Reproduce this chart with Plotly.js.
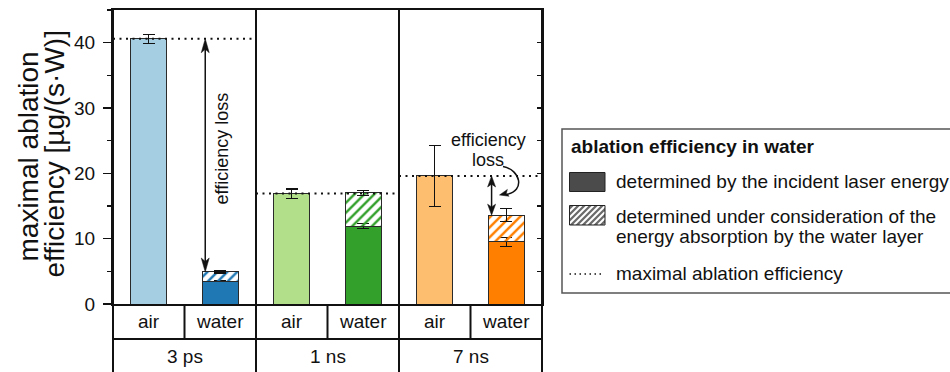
<!DOCTYPE html>
<html>
<head>
<meta charset="utf-8">
<script src="https://cdn.plot.ly/plotly-3.0.1.min.js"></script>
<style>
  html, body { margin: 0; padding: 0; background: #fff; }
  #chart { width: 950px; height: 372px; }
</style>
</head>
<body>
<div id="chart"></div>
<script>
// Pulse durations and ablation media
const pulseDurations = ['3 ps', '1 ns', '7 ns'];
const media = ['air', 'water'];

// Maximal ablation efficiency in air, µg/(s·W)
const airValues = [40.6, 16.9, 19.6];
const airErrors = [0.7, 0.7, 4.7];

// In water, referred to the incident laser energy
const waterIncident = [3.5, 11.9, 9.5];
const waterIncidentErrors = [0.1, 0.4, 0.7];

// In water, taking the absorption of the water layer into account
const waterAbsorbed = [4.9, 17.0, 13.6];
const waterAbsorbedErrors = [0.15, 0.35, 1.0];

const airColors = ['#a6cee3', '#b2df8a', '#fdbf6f'];
const waterColors = ['#1f78b4', '#33a02c', '#ff7f00'];

const FONT = 'Liberation Sans, Arial, Helvetica, sans-serif';
const INK = '#111';

// plot-area geometry (pixels)
const P = { l: 113, t: 10, w: 429, h: 294 };
const Y_MAX = 45;
const N_CAT = pulseDurations.length * media.length;
const paperX = px => (px - P.l) / P.w;
const paperY = py => (P.t + P.h - py) / P.h;
const dataX = px => (px - P.l) / P.w * N_CAT - 0.5;
const dataY = py => (P.t + P.h - py) / P.h * Y_MAX;
const pixX = x => P.l + (x + 0.5) / N_CAT * P.w;
const pixY = y => P.t + P.h - y / Y_MAX * P.h;

const airX = pulseDurations.map((_, i) => 2 * i);
const waterX = pulseDurations.map((_, i) => 2 * i + 1);
const hatchPart = waterAbsorbed.map((v, i) => +(v - waterIncident[i]).toFixed(3));

const barLine = { color: '#2a2a2a', width: 1 };
const errStyle = (arr) => ({ type: 'data', array: arr, visible: true, color: INK, thickness: 1.2, width: 6 });

// dotted reference line at the air value across each pulse-duration group
const maxX = [], maxY = [];
airValues.forEach((v, i) => {
  maxX.push(2 * i - 0.5, 2 * i + 1.5, null);
  maxY.push(v, v, null);
});

const traces = [
  {
    type: 'bar', x: airX, y: airValues, width: 0.5,
    marker: { color: airColors, line: barLine },
    error_y: errStyle(airErrors), hoverinfo: 'y', showlegend: false
  },
  {
    type: 'bar', x: waterX, y: waterIncident, width: 0.5,
    marker: { color: waterColors, line: barLine },
    error_y: errStyle(waterIncidentErrors), hoverinfo: 'y', showlegend: false
  },
  {
    type: 'bar', x: waterX, y: hatchPart, width: 0.5,
    marker: {
      color: waterColors, line: barLine,
      pattern: { shape: '/', fgcolor: '#ffffff', bgcolor: waterColors, size: 7, solidity: 0.35 }
    },
    error_y: errStyle(waterAbsorbedErrors), hoverinfo: 'y', showlegend: false
  },
  {
    type: 'scatter', mode: 'lines', x: maxX, y: maxY, yaxis: 'y2',
    line: { color: INK, width: 2, dash: '2px,4.5px' },
    hoverinfo: 'skip', showlegend: false
  }
];

// ---- shapes -------------------------------------------------------------
const shapes = [];
const lineW = 2;
const row1 = paperY(339);
const tableBottom = paperY(380);

// group separators, through the plot and the label table
[-0.5, 1.5, 3.5, 5.5].forEach(x => {
  shapes.push({ type: 'line', xref: 'paper', yref: 'paper',
    x0: (x + 0.5) / N_CAT, x1: (x + 0.5) / N_CAT, y0: 1, y1: tableBottom,
    line: { color: INK, width: lineW }, layer: 'above' });
});
// air / water separators in the first table row
[0.5, 2.5, 4.5].forEach(x => {
  shapes.push({ type: 'line', xref: 'paper', yref: 'paper',
    x0: (x + 0.5) / N_CAT, x1: (x + 0.5) / N_CAT, y0: 0, y1: row1,
    line: { color: INK, width: lineW }, layer: 'above' });
});
shapes.push({ type: 'line', xref: 'paper', yref: 'paper', x0: 0, x1: 1, y0: row1, y1: row1,
  line: { color: INK, width: lineW }, layer: 'above' });

// filled arrowhead given tip (pixels) and pointing direction
function arrowHead(tx, ty, ux, uy, len, half, notch) {
  const nx = -uy, ny = ux;
  const pts = [
    [tx, ty],
    [tx - ux * len + nx * half, ty - uy * len + ny * half],
    [tx - ux * notch, ty - uy * notch],
    [tx - ux * len - nx * half, ty - uy * len - ny * half]
  ];
  const d = pts.map((p, k) => (k ? 'L' : 'M') + dataX(p[0]).toFixed(4) + ',' + dataY(p[1]).toFixed(4)).join(' ') + ' Z';
  return { type: 'path', xref: 'x', yref: 'y', path: d, fillcolor: INK, line: { color: INK, width: 0.5 }, layer: 'above' };
}

function doubleArrow(x, yTop, yBottom, len, half) {
  const px = pixX(x), pTop = pixY(yTop), pBot = pixY(yBottom);
  shapes.push({ type: 'line', xref: 'x', yref: 'y', x0: x, x1: x,
    y0: dataY(pTop + len * 0.7), y1: dataY(pBot - len * 0.7),
    line: { color: INK, width: 1.5 }, layer: 'above' });
  shapes.push(arrowHead(px, pTop, 0, -1, len, half, len * 0.75));
  shapes.push(arrowHead(px, pBot, 0, 1, len, half, len * 0.75));
}

// efficiency loss, 3 ps and 7 ns
doubleArrow(waterX[0] - 0.21, airValues[0], waterAbsorbed[0], 14, 4);
doubleArrow(waterX[2] - 0.205, airValues[2], waterAbsorbed[2], 11, 4);

// curved pointer from the label to the 7 ns arrow
const cp = [[503, 166.5], [521, 170], [525, 191], [507, 194.2]];
shapes.push({ type: 'path', xref: 'x', yref: 'y',
  path: 'M' + dataX(cp[0][0]) + ',' + dataY(cp[0][1]) +
        ' C' + dataX(cp[1][0]) + ',' + dataY(cp[1][1]) + ' ' +
        dataX(cp[2][0]) + ',' + dataY(cp[2][1]) + ' ' +
        dataX(cp[3][0]) + ',' + dataY(cp[3][1]),
  line: { color: INK, width: 1.5 }, layer: 'above' });
shapes.push(arrowHead(499.5, 195, -0.97, 0.24, 9, 3.5, 7));

// ---- legend box ----------------------------------------------------------
const LG = { x0: 562, x1: 975, y0: 129, y1: 293 };
shapes.push({ type: 'rect', xref: 'paper', yref: 'paper',
  x0: paperX(LG.x0), x1: paperX(LG.x1), y0: paperY(LG.y1), y1: paperY(LG.y0),
  line: { color: '#555', width: 1.5 }, fillcolor: 'rgba(0,0,0,0)' });

const SW = { x0: 569.5, x1: 605 };
shapes.push({ type: 'rect', xref: 'paper', yref: 'paper',
  x0: paperX(SW.x0), x1: paperX(SW.x1), y0: paperY(191.5), y1: paperY(172.5),
  line: { color: '#222', width: 1 }, fillcolor: '#4b4b4b' });

// hatched swatch
const H = { x0: SW.x0, x1: SW.x1, y0: 205.5, y1: 225 };
shapes.push({ type: 'rect', xref: 'paper', yref: 'paper',
  x0: paperX(H.x0), x1: paperX(H.x1), y0: paperY(H.y1), y1: paperY(H.y0),
  line: { width: 0 }, fillcolor: '#6a6a6a' });
for (let c = H.x0 + H.y0; c <= H.x1 + H.y1; c += 6) {
  const xa = Math.max(H.x0, c - H.y1), xb = Math.min(H.x1, c - H.y0);
  if (xb - xa < 0.5) continue;
  shapes.push({ type: 'line', xref: 'paper', yref: 'paper',
    x0: paperX(xa), y0: paperY(c - xa), x1: paperX(xb), y1: paperY(c - xb),
    line: { color: '#ffffff', width: 2 } });
}
shapes.push({ type: 'rect', xref: 'paper', yref: 'paper',
  x0: paperX(H.x0), x1: paperX(H.x1), y0: paperY(H.y1), y1: paperY(H.y0),
  line: { color: '#222', width: 1 }, fillcolor: 'rgba(0,0,0,0)' });

shapes.push({ type: 'line', xref: 'paper', yref: 'paper',
  x0: paperX(569.5), x1: paperX(601), y0: paperY(274), y1: paperY(274),
  line: { color: INK, width: 1.5, dash: '1.5px,3.5px' } });

// ---- annotations ---------------------------------------------------------
const annotations = [];
const txt = (text, x, y, opts) => Object.assign({
  text, x, y, xref: 'paper', yref: 'paper', showarrow: false,
  xanchor: 'center', yanchor: 'middle', font: { family: FONT, size: 19, color: INK }
}, opts || {});

// category table labels
pulseDurations.forEach((d, i) => {
  media.forEach((m, j) => {
    annotations.push(txt(m, 2 * i + j, paperY(321.5), { xref: 'x' }));
  });
  annotations.push(txt(d, 2 * i + 0.5, paperY(356.5), { xref: 'x' }));
});

// y-axis title, two lines
annotations.push(txt('maximal ablation', paperX(27.5), paperY(157),
  { textangle: -90, font: { family: FONT, size: 28, color: INK } }));
annotations.push(txt('efficiency [µg/(s·W)]', paperX(53.5), paperY(154),
  { textangle: -90, font: { family: FONT, size: 28, color: INK } }));

// efficiency loss labels
annotations.push(txt('efficiency loss', dataX(221), dataY(148.5),
  { xref: 'x', yref: 'y', textangle: -90, font: { family: FONT, size: 18, color: INK } }));
annotations.push(txt('efficiency', dataX(488), dataY(139.5),
  { xref: 'x', yref: 'y', font: { family: FONT, size: 18, color: INK } }));
annotations.push(txt('loss', dataX(488), dataY(160),
  { xref: 'x', yref: 'y', font: { family: FONT, size: 18, color: INK } }));

// legend text
const LX = paperX(614);
annotations.push(txt('<b>ablation efficiency in water</b>', paperX(569), paperY(146.5), { xanchor: 'left' }));
annotations.push(txt('determined by the incident laser energy', LX, paperY(181.5), { xanchor: 'left' }));
annotations.push(txt('determined under consideration of the', LX, paperY(216), { xanchor: 'left' }));
annotations.push(txt('energy absorption by the water layer', LX, paperY(236.5), { xanchor: 'left' }));
annotations.push(txt('maximal ablation efficiency', LX, paperY(273.5), { xanchor: 'left' }));

const layout = {
  width: 950, height: 372,
  margin: { l: P.l, r: 950 - P.l - P.w, t: P.t, b: 372 - P.t - P.h, pad: 0 },
  paper_bgcolor: '#ffffff', plot_bgcolor: '#ffffff',
  font: { family: FONT, color: INK },
  barmode: 'stack', bargap: 0.5,
  showlegend: false,
  xaxis: {
    range: [-0.5, N_CAT - 0.5], showticklabels: false, ticks: '',
    showgrid: false, zeroline: false, showline: true, linecolor: INK, linewidth: 2, mirror: true,
    fixedrange: true
  },
  yaxis: {
    range: [0, Y_MAX], dtick: 10, tick0: 0, ticks: 'outside', ticklen: 8, tickwidth: 1.5, tickcolor: INK,
    minor: { dtick: 5, ticks: 'outside', ticklen: 4, tickwidth: 1.5, tickcolor: INK },
    tickfont: { family: FONT, size: 19, color: INK }, ticklabelstandoff: 4,
    showgrid: false, zeroline: false, showline: true, linecolor: INK, linewidth: 2, mirror: true,
    fixedrange: true
  },
  yaxis2: {
    range: [0, Y_MAX], overlaying: 'y', side: 'right', dtick: 10, tick0: 0,
    ticks: 'inside', ticklen: 5, tickwidth: 1.5, tickcolor: INK,
    minor: { dtick: 5, ticks: 'inside', ticklen: 5, tickwidth: 1.5, tickcolor: INK },
    showticklabels: false, showgrid: false, zeroline: false, showline: false, fixedrange: true
  },
  shapes, annotations
};

Plotly.newPlot('chart', traces, layout, { displayModeBar: false, staticPlot: true });
</script>
</body>
</html>
